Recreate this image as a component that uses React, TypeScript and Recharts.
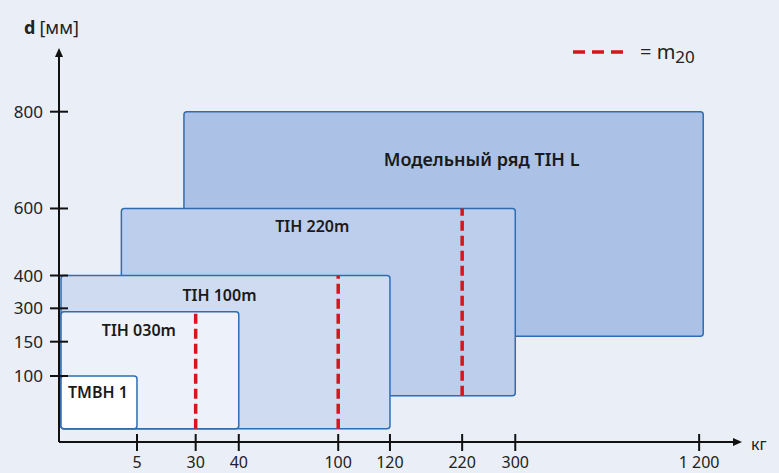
import React from 'react';
import { ComposedChart, XAxis, YAxis, ReferenceArea, ReferenceLine, ReferenceDot } from 'recharts';

// model ranges: weight (кг) and diameter d (мм)
const modelNames = ['Модельный ряд TIH L', 'TIH 220m', 'TIH 100m', 'TIH 030m', 'TMBH 1'];
const minWeight = [25, 4, 0, 0, 0];
const maxWeight = [1220, 300, 120, 40, 5];
const minDiameter = [175, 70, 20, 20, 20];
const maxDiameter = [800, 600, 400, 285, 100];
const m20Weight: (number | null)[] = [null, 220, 100, 30, null];

const xTickValues = [5, 30, 40, 100, 120, 220, 300, 1200];
const xTickLabels = ['5', '30', '40', '100', '120', '220', '300', '1 200'];
const yTickValues = [100, 150, 300, 400, 600, 800];
const yTickLabels = ['100', '150', '300', '400', '600', '800'];

// the original axes are not linear: value -> axis unit (0..100) break points
const xBreaks: [number, number][] = [
  [0, 0], [5, 11.45], [30, 20.07], [40, 26.4], [100, 41.0],
  [120, 48.6], [220, 59.2], [300, 67.0], [1200, 94.0],
];
const yBreaks: [number, number][] = [
  [0, 0], [100, 16.84], [150, 25.59], [300, 34.1], [400, 42.47], [600, 59.57], [800, 84.26],
];

const toUnit = (v: number, breaks: [number, number][]) => {
  let i = 1;
  while (i < breaks.length - 1 && v > breaks[i][0]) i++;
  const [v0, u0] = breaks[i - 1];
  const [v1, u1] = breaks[i];
  return u0 + ((v - v0) / (v1 - v0)) * (u1 - u0);
};
const ux = (v: number) => toUnit(v, xBreaks);
const uy = (v: number) => toUnit(v, yBreaks);

const fills = ['#abc2e6', '#bdceec', '#cfdbf0', '#edf1f9', '#ffffff'];
const labelShift = [[38, 48], [-6, 18], [-5, 19], [-10, 18], [0, 16]];
const FONT = '"Noto Sans", "Open Sans", sans-serif';
const BG = '#e9eef7';

const XTick = (props: any) => {
  const { x, y, index } = props;
  return (
    <g>
      <line x1={x} x2={x} y1={y - 8} y2={y + 9} stroke="#111" strokeWidth={2} />
      <text x={x} y={y + 26} textAnchor="middle" fontSize={16} fill="#222" fontFamily={FONT}>
        {xTickLabels[index]}
      </text>
    </g>
  );
};

const YTick = (props: any) => {
  const { x, y, index } = props;
  return (
    <g>
      <line x1={x - 9} x2={x + 9} y1={y} y2={y} stroke="#111" strokeWidth={2} />
      <text x={x - 16} y={y + 6} textAnchor="end" fontSize={17} fill="#222" fontFamily={FONT}>
        {yTickLabels[index]}
      </text>
    </g>
  );
};

export default function App() {
  return (
    <div style={{ position: 'fixed', left: 0, top: 0, width: 779, height: 473, background: BG, overflow: 'hidden' }}>
      <ComposedChart width={779} height={473} margin={{ top: 50, right: 39, bottom: 0, left: 0 }}>
        <XAxis
          type="number"
          dataKey="x"
          domain={[0, 100]}
          ticks={xTickValues.map(ux)}
          tick={<XTick />}
          tickLine={false}
          tickSize={0}
          tickMargin={0}
          height={31}
          axisLine={{ stroke: '#111', strokeWidth: 2 }}
          allowDataOverflow
        />
        <YAxis
          type="number"
          dataKey="y"
          domain={[0, 100]}
          ticks={yTickValues.map(uy)}
          tick={<YTick />}
          tickLine={false}
          tickSize={0}
          tickMargin={0}
          width={59}
          axisLine={{ stroke: '#111', strokeWidth: 2 }}
          allowDataOverflow
        />
        {modelNames.map((name, i) => {
          const inset = minWeight[i] === 0 ? 2 : 0;
          return (
            <ReferenceArea
              key={name}
              x1={ux(minWeight[i])}
              x2={ux(maxWeight[i])}
              y1={uy(minDiameter[i])}
              y2={uy(maxDiameter[i])}
              ifOverflow="visible"
              shape={(p: any) => (
                <g>
                  <rect
                    x={p.x + inset}
                    y={p.y}
                    width={p.width - inset}
                    height={p.height}
                    rx={3}
                    fill={fills[i]}
                    stroke="#2e6db4"
                    strokeWidth={1.5}
                  />
                  <text
                    x={p.x + p.width / 2 + labelShift[i][0]}
                    y={p.y + labelShift[i][1] + 6}
                    textAnchor="middle"
                    fontSize={i === 0 ? 18 : 16}
                    fontWeight={600}
                    fill="#1a1a1a"
                    fontFamily={FONT}
                  >
                    {name}
                  </text>
                </g>
              )}
            />
          );
        })}
        {m20Weight.map((w, i) =>
          w === null ? null : (
            <ReferenceLine
              key={`m20-${i}`}
              segment={[
                { x: ux(w), y: uy(minDiameter[i]) },
                { x: ux(w), y: uy(maxDiameter[i]) },
              ]}
              stroke="#d7151b"
              strokeWidth={3.5}
              strokeDasharray="10 5"
              ifOverflow="visible"
            />
          )
        )}
        <ReferenceDot
          x={100}
          y={0}
          ifOverflow="visible"
          shape={(p: any) => (
            <path d={`M${p.cx + 2},${p.cy} L${p.cx - 7},${p.cy - 4} L${p.cx - 7},${p.cy + 4} Z`} fill="#111" />
          )}
        />
        <ReferenceDot
          x={0}
          y={100}
          ifOverflow="visible"
          shape={(p: any) => (
            <path d={`M${p.cx},${p.cy - 2} L${p.cx - 4},${p.cy + 7} L${p.cx + 4},${p.cy + 7} Z`} fill="#111" />
          )}
        />
      </ComposedChart>
      <svg
        width={779}
        height={473}
        style={{ position: 'absolute', left: 0, top: 0, pointerEvents: 'none' }}
      >
        <text x={24} y={34} fontSize={18} fill="#222" fontFamily={FONT}>
          <tspan fontWeight={700}>d</tspan>
          <tspan dx={4}>[мм]</tspan>
        </text>
        <line x1={573} x2={625} y1={52} y2={52} stroke="#d7151b" strokeWidth={3.5} strokeDasharray="12 7" />
        <text x={640} y={59} fontSize={20} fill="#222" fontFamily={FONT}>
          = m<tspan fontSize={17} dy={4}>20</tspan>
        </text>
        <text x={751} y={450} fontSize={16} fill="#222" fontFamily={FONT}>
          кг
        </text>
      </svg>
    </div>
  );
}
